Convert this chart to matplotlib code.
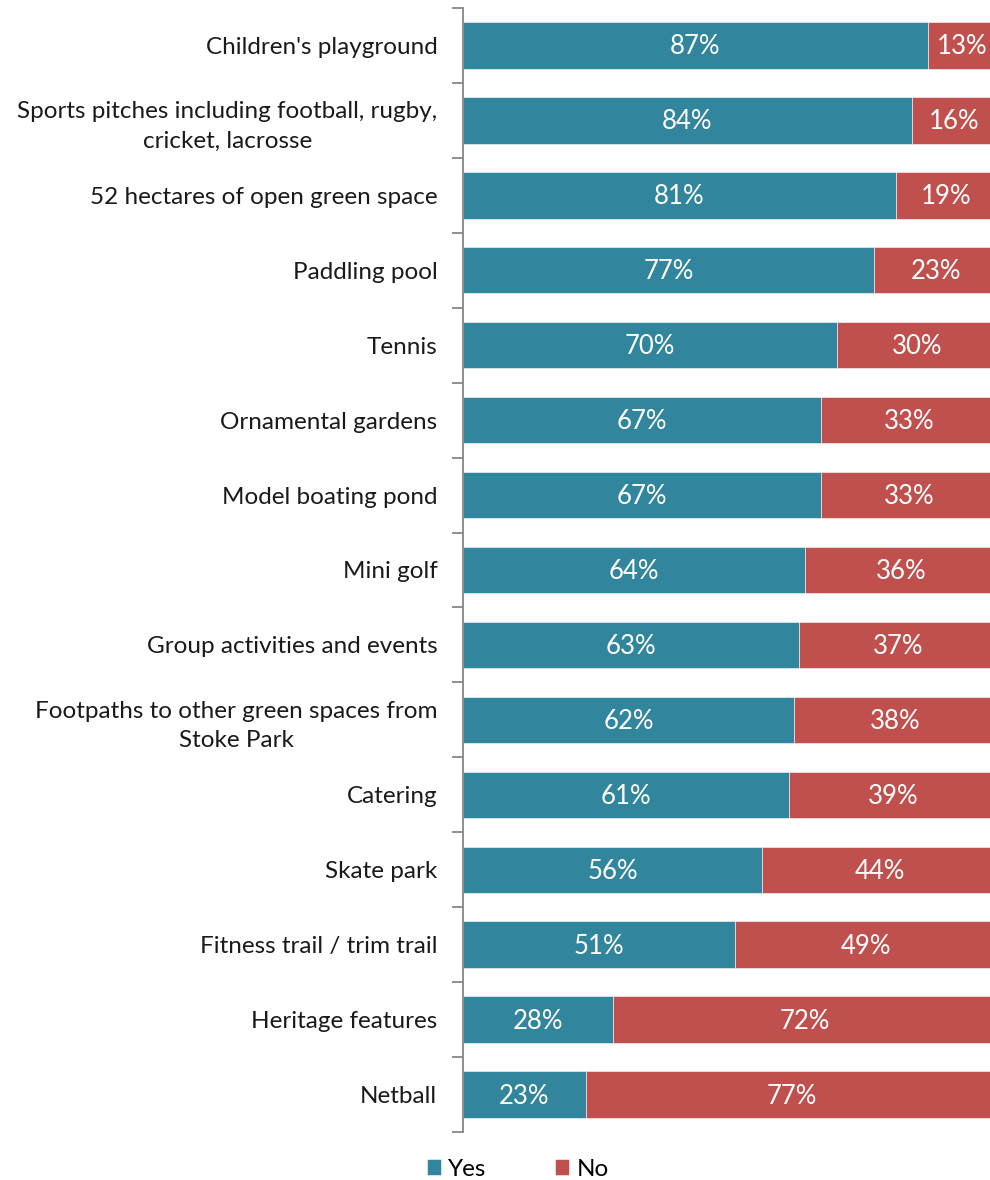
import matplotlib.pyplot as plt
import numpy as np

plt.rcParams['font.family'] = ['Lato', 'DejaVu Sans']

categories = ["Children's playground",
              "Sports pitches including football, rugby,\ncricket, lacrosse",
              "52 hectares of open green space",
              "Paddling pool",
              "Tennis",
              "Ornamental gardens",
              "Model boating pond",
              "Mini golf",
              "Group activities and events",
              "Footpaths to other green spaces from\nStoke Park",
              "Catering",
              "Skate park",
              "Fitness trail / trim trail",
              "Heritage features",
              "Netball"]
yes_vals = [87, 84, 81, 77, 70, 67, 67, 64, 63, 62, 61, 56, 51, 28, 23]
no_vals = [13, 16, 19, 23, 30, 33, 33, 36, 37, 38, 39, 44, 49, 72, 77]

teal = '#31859C'
red = '#C0504D'

fig = plt.figure(figsize=(9.9, 11.8), dpi=100)
ax = fig.add_axes([463/990, 1 - 1132/1180, 534/990, 1124/1180])

y = np.arange(len(categories))
h = 0.62
b1 = ax.barh(y, yes_vals, height=h, color=teal, edgecolor='white', linewidth=0.4, label='Yes')
b2 = ax.barh(y, no_vals, left=yes_vals, height=h, color=red, edgecolor='white', linewidth=0.4, label='No')

for i in range(len(categories)):
    ax.text(yes_vals[i] / 2, i + 0.02, f"{yes_vals[i]}%", color='white', ha='center', va='center', fontsize=18.5)
    ax.text(yes_vals[i] + no_vals[i] / 2, i + 0.02, f"{no_vals[i]}%", color='white', ha='center', va='center', fontsize=18.5)

ax.set_xlim(0, 100)
ax.set_ylim(len(categories) - 0.5, -0.5)
ax.set_yticks(y)
ax.set_yticklabels(categories, fontsize=17.5, color='#1a1a1a', linespacing=1.5)
ax.set_yticks(np.arange(-0.5, len(categories), 1), minor=True)
ax.tick_params(axis='y', which='major', length=0, pad=18.5)
ax.tick_params(axis='y', which='minor', length=8, color='#868686', width=1.3)
ax.set_xticks([])
for s in ['top', 'right', 'bottom']:
    ax.spines[s].set_visible(False)
ax.spines['left'].set_color('#868686')
ax.spines['left'].set_linewidth(1.3)
for lbl in ax.get_yticklabels():
    lbl.set_horizontalalignment('right')
    lbl.set_multialignment('center')

fig.legend(handles=[b1, b2], labels=['Yes', 'No'], loc='center', bbox_to_anchor=(0.523, 1 - 1169/1180),
           ncol=2, frameon=False, fontsize=17.5, handlelength=0.6, handleheight=0.6,
           handletextpad=0.3, columnspacing=2.8)

fig.savefig('out.png', dpi=100)
